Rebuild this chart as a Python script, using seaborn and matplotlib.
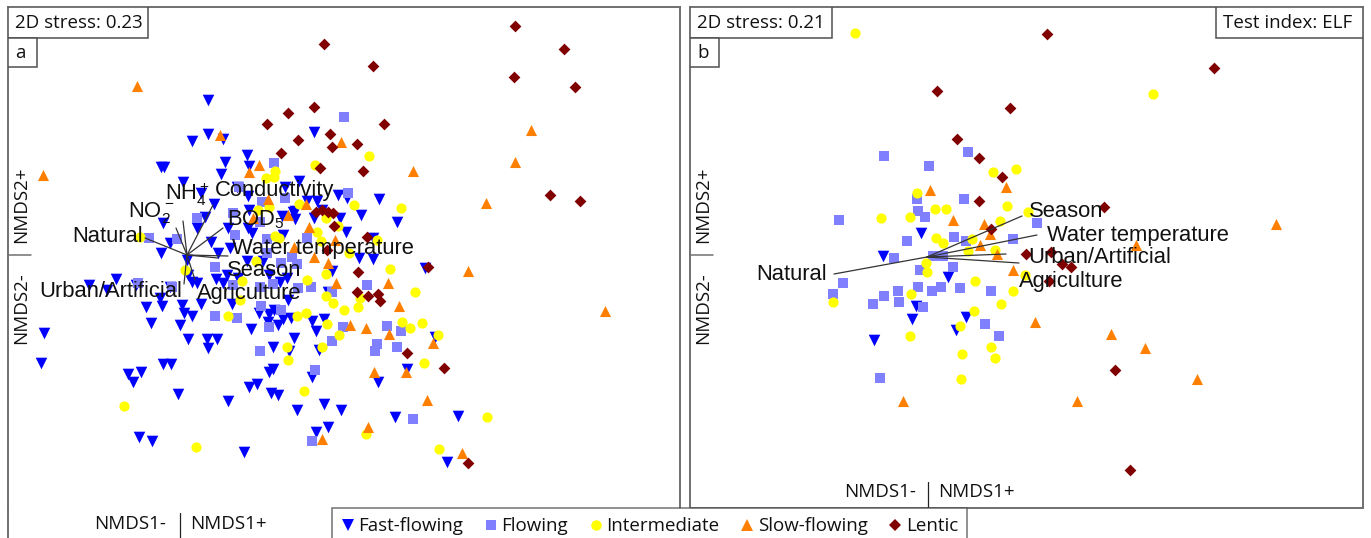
import matplotlib
matplotlib.use('Agg')
import matplotlib.pyplot as plt
from matplotlib.lines import Line2D
from matplotlib.patches import Rectangle
import pandas as pd
import seaborn as sns

# site scores, both ordination panels share one scale
fast_a = [(208,100),(208,134),(192,141),(223,139),(247,155),(314,132),(225,162),(249,166),(161,167),(164,167),
          (221,174),(183,182),(201,193),(214,204),(248,196),(299,181),(285,187),(237,187),(307,201),(317,201),
          (249,210),(293,212),(282,216),(205,217),(338,195),(347,198),(379,199),(295,211),(295,219),(322,210),
          (314,218),(340,218),(361,215),(397,222),(163,223),(197,228),(228,228),(346,232),(373,238),(170,243),
          (211,242),(230,248),(161,253),(218,253),(247,261),(263,261),(359,258),(373,259),(332,271),(425,268),
          (187,260),(116,279),(89,285),(188,275),(192,282),(197,283),(216,279),(223,283),(227,275),(238,278),
          (269,275),(287,278),(170,287),(107,290),(136,285),(160,298),(146,307),(162,306),(182,305),(201,304),
          (184,313),(192,316),(232,304),(259,313),(269,314),(274,310),(283,319),(291,318),(312,321),(324,319),
          (268,322),(278,325),(151,323),(180,325),(251,329),(44,333),(188,339),(207,339),(217,339),(208,348),
          (294,338),(316,331),(273,347),(289,351),(319,350),(435,337),(41,363),(163,364),(171,364),(128,374),
          (141,372),(133,382),(273,369),(269,372),(312,377),(407,369),(378,382),(178,394),(228,401),(249,387),
          (257,384),(271,393),(278,395),(297,410),(324,404),(341,410),(395,417),(458,416),(328,427),(316,432),
          (139,437),(152,441),(244,452),(447,462),(252,233),(283,235),(248,228),(280,282),(288,300),(328,292)]
flowing_a = [(344,117),(274,163),(262,202),(285,198),(348,193),(197,218),(235,235),(260,222),(149,238),(177,239),
             (267,239),(307,238),(292,257),(281,263),(297,264),(215,267),(273,284),(298,288),(311,287),(332,292),
             (367,285),(215,316),(237,318),(261,306),(281,310),(269,327),(343,327),(387,326),(401,331),(332,341),
             (377,344),(375,351),(397,347),(260,351),(315,370),(413,419),(312,441),(239,187),(233,213),(233,285),
             (260,287),(138,283),(172,287),(267,253)]
inter_a = [(369,156),(315,165),(275,171),(266,178),(274,177),(299,204),(269,207),(354,205),(401,208),(326,218),
           (338,226),(317,232),(275,236),(279,238),(321,241),(377,240),(349,253),(256,261),(390,269),(326,274),
           (185,270),(307,280),(242,281),(326,296),(333,303),(360,298),(415,292),(344,310),(358,307),(240,300),
           (228,316),(297,316),(306,313),(327,324),(402,322),(410,328),(422,323),(339,335),(438,335),(287,347),
           (322,347),(288,360),(424,363),(304,391),(124,406),(487,417),(366,434),(196,447),(439,449),(140,237),
           (258,210)]
slow_a = [(137,86),(220,135),(531,130),(341,142),(43,175),(259,165),(249,172),(413,171),(515,162),(486,203),
          (268,199),(306,204),(288,215),(253,218),(309,227),(335,240),(294,247),(314,257),(328,263),(336,283),
          (388,283),(468,271),(399,306),(605,311),(350,325),(366,328),(389,334),(433,343),(374,372),(406,372),
          (427,400),(368,427),(322,439),(462,453)]
lentic_a = [(515,26),(564,49),(514,77),(575,87),(324,44),(373,66),(314,107),(288,113),(267,124),(384,124),
            (330,134),(332,147),(357,144),(298,140),(281,153),(320,168),(363,171),(550,195),(580,201),(316,212),
            (322,210),(328,212),(333,213),(334,226),(367,237),(428,267),(358,272),(357,292),(368,296),(378,294),
            (380,301),(407,353),(444,368),(468,463),(327,250)]

fast_b = [(921,233),(883,256),(948,277),(916,306),(912,319),(966,317),(956,330),(874,340)]
flowing_b = [(884,156),(968,152),(929,166),(839,220),(917,199),(964,199),(918,211),(925,217),(1037,223),(907,241),
             (954,237),(966,241),(1013,239),(894,258),(933,256),(943,256),(953,267),(920,270),(843,283),(833,294),
             (884,296),(898,291),(918,287),(932,291),(941,287),(960,288),(991,291),(899,302),(873,304),(923,307),
             (985,324),(999,336),(880,378)]
inter_b = [(855,33),(1153,94),(1016,169),(993,172),(917,193),(1007,206),(881,218),(910,217),(935,209),(946,209),
           (1028,212),(1000,221),(936,238),(943,243),(972,239),(968,251),(995,250),(926,263),(927,272),(1025,275),
           (975,281),(1013,291),(911,294),(833,302),(1001,304),(974,311),(960,326),(910,336),(991,347),(962,354),
           (995,358),(961,379)]
slow_b = [(930,190),(1006,187),(953,220),(984,224),(990,234),(980,245),(997,254),(1013,270),(1035,322),(1111,334),
          (1136,245),(1276,224),(1145,348),(1197,379),(1077,401),(903,401)]
lentic_b = [(1047,34),(1214,68),(937,91),(1010,108),(957,139),(979,158),(1002,177),(979,201),(1104,207),(991,229),
            (1026,254),(1051,252),(1062,264),(1071,267),(1049,281),(1115,370),(1130,470)]

vectors_a = [(145,238),(176,228),(183,221),(213,205),(223,228),(228,256),(218,258),(184,284),(195,280)]
vectors_b = [(834,274),(1022,216),(1037,235),(1006,254),(1019,263)]
origin_a = (187,255)
origin_b = (927,257)

labels_a = [('Conductivity',215,190),('NH$_4^+$',165,194),('NO$_2^-$',128,212),('Natural',72,236),('BOD$_5$',227,220),
            ('Water temperature',232,248),('Season',227,270),('Urban/Artificial',39,291),('Agriculture',197,293)]
labels_b = [('Season',1029,211),('Water temperature',1047,235),('Urban/Artificial',1028,257),
            ('Agriculture',1019,281),('Natural',756,274)]

names = ['Fast-flowing', 'Flowing', 'Intermediate', 'Slow-flowing', 'Lentic']
colors = ['#0000ff', '#8080ff', '#ffff00', '#ff8000', '#800000']
markers = ['v', 's', 'o', '^', 'D']
sizes = [70, 46, 54, 64, 36]

W, H = 1371, 538
sns.set_theme(style='white')
plt.rcParams['font.family'] = ['Open Sans', 'DejaVu Sans']
plt.rcParams['mathtext.default'] = 'regular'
BORDER = '#707070'
INK = '#111111'
UI = 13.5
LABEL = 15.8


def make_axes(fig, x0, x1, y0, y1):
    ax = fig.add_axes([x0 / W, 1 - y1 / H, (x1 - x0) / W, (y1 - y0) / H])
    ax.set_xlim(x0, x1)
    ax.set_ylim(y1, y0)
    ax.set_xticks([])
    ax.set_yticks([])
    ax.set_xlabel('')
    ax.set_ylabel('')
    for s in ax.spines.values():
        s.set_color(BORDER)
        s.set_linewidth(1.4)
    return ax


def box(ax, x0, y0, x1, y1, txt=None):
    ax.add_patch(Rectangle((x0, y0), x1 - x0, y1 - y0, fc='white', ec='#505050', lw=1.1, zorder=6))
    if txt:
        ax.text(x0 + 7, (y0 + y1) / 2, txt, fontsize=UI, color=INK, va='center', ha='left', zorder=7)


def draw_panel(ax, series, origin, vectors, labels):
    for pts, name, c, m, s in zip(series, names, colors, markers, sizes):
        df = pd.DataFrame(pts, columns=['nmds1', 'nmds2'])
        sns.scatterplot(data=df, x='nmds1', y='nmds2', ax=ax, color=c, marker=m, s=s, linewidth=0, legend=False, zorder=3)
    for vx, vy in vectors:
        ax.plot([origin[0], vx], [origin[1], vy], color='#333333', lw=0.9, zorder=4)
    for txt, tx, ty in labels:
        ax.text(tx, ty, txt, fontsize=LABEL, color=INK, family='Liberation Sans', va='center', ha='left', zorder=5)
    ax.set_xlabel('')
    ax.set_ylabel('')
    ax.set_xticks([])
    ax.set_yticks([])


fig = plt.figure(figsize=(W / 100, H / 100), dpi=100)
fig.patch.set_facecolor('white')

ax_a = make_axes(fig, 8, 680, 7, 508)
ax_b = make_axes(fig, 690, 1363, 7, 508)
ax_a.spines['bottom'].set_visible(False)

draw_panel(ax_a, [fast_a, flowing_a, inter_a, slow_a, lentic_a], origin_a, vectors_a, labels_a)
draw_panel(ax_b, [fast_b, flowing_b, inter_b, slow_b, lentic_b], origin_b, vectors_b, labels_b)

box(ax_a, 8, 7, 148, 38, '2D stress: 0.23')
box(ax_a, 8, 38, 37, 67, 'a')
box(ax_b, 690, 7, 832, 38, '2D stress: 0.21')
box(ax_b, 690, 38, 719, 67, 'b')
box(ax_b, 1216, 7, 1363, 38, 'Test index: ELF')

# left line of panel a runs on to the bottom edge
ax_a.plot([8, 8], [508, 538], color=BORDER, lw=1.4, clip_on=False)

for ax, left in [(ax_a, 8), (ax_b, 690)]:
    ax.plot([left, left + 23], [255, 255], color=BORDER, lw=1.1, zorder=6)
    ax.text(left + 13, 243, 'NMDS2+', rotation=90, fontsize=UI, color=INK, ha='center', va='bottom', zorder=7)
    ax.text(left + 13, 272, 'NMDS2-', rotation=90, fontsize=UI, color=INK, ha='center', va='top', zorder=7)

ax_a.text(166, 524, 'NMDS1-', fontsize=UI, color=INK, ha='right', va='center', clip_on=False)
ax_a.plot([180, 180], [513, 538], color='#222222', lw=0.9, clip_on=False)
ax_a.text(190, 524, 'NMDS1+', fontsize=UI, color=INK, ha='left', va='center', clip_on=False)

ax_b.text(916, 492, 'NMDS1-', fontsize=UI, color=INK, ha='right', va='center')
ax_b.plot([928, 928], [482, 508], color='#222222', lw=0.9, zorder=6)
ax_b.text(938, 492, 'NMDS1+', fontsize=UI, color=INK, ha='left', va='center')

handles = [Line2D([], [], ls='', marker=m, color=c, markeredgewidth=0, markersize=ms)
           for m, c, ms in zip(markers, colors, [8, 7, 7.5, 8, 6])]
leg = fig.legend(handles, names, ncol=5, loc='upper left', bbox_to_anchor=(332 / W, 1 - 508 / H),
                 fontsize=UI, frameon=True, fancybox=False, edgecolor='#505050', facecolor='white',
                 borderaxespad=0, borderpad=0.5, handlelength=0.7, handletextpad=0.2, columnspacing=1.14)
leg.get_frame().set_linewidth(1.1)
leg.set_zorder(10)
for t in leg.get_texts():
    t.set_color(INK)

fig.savefig('out.png', dpi=100)
